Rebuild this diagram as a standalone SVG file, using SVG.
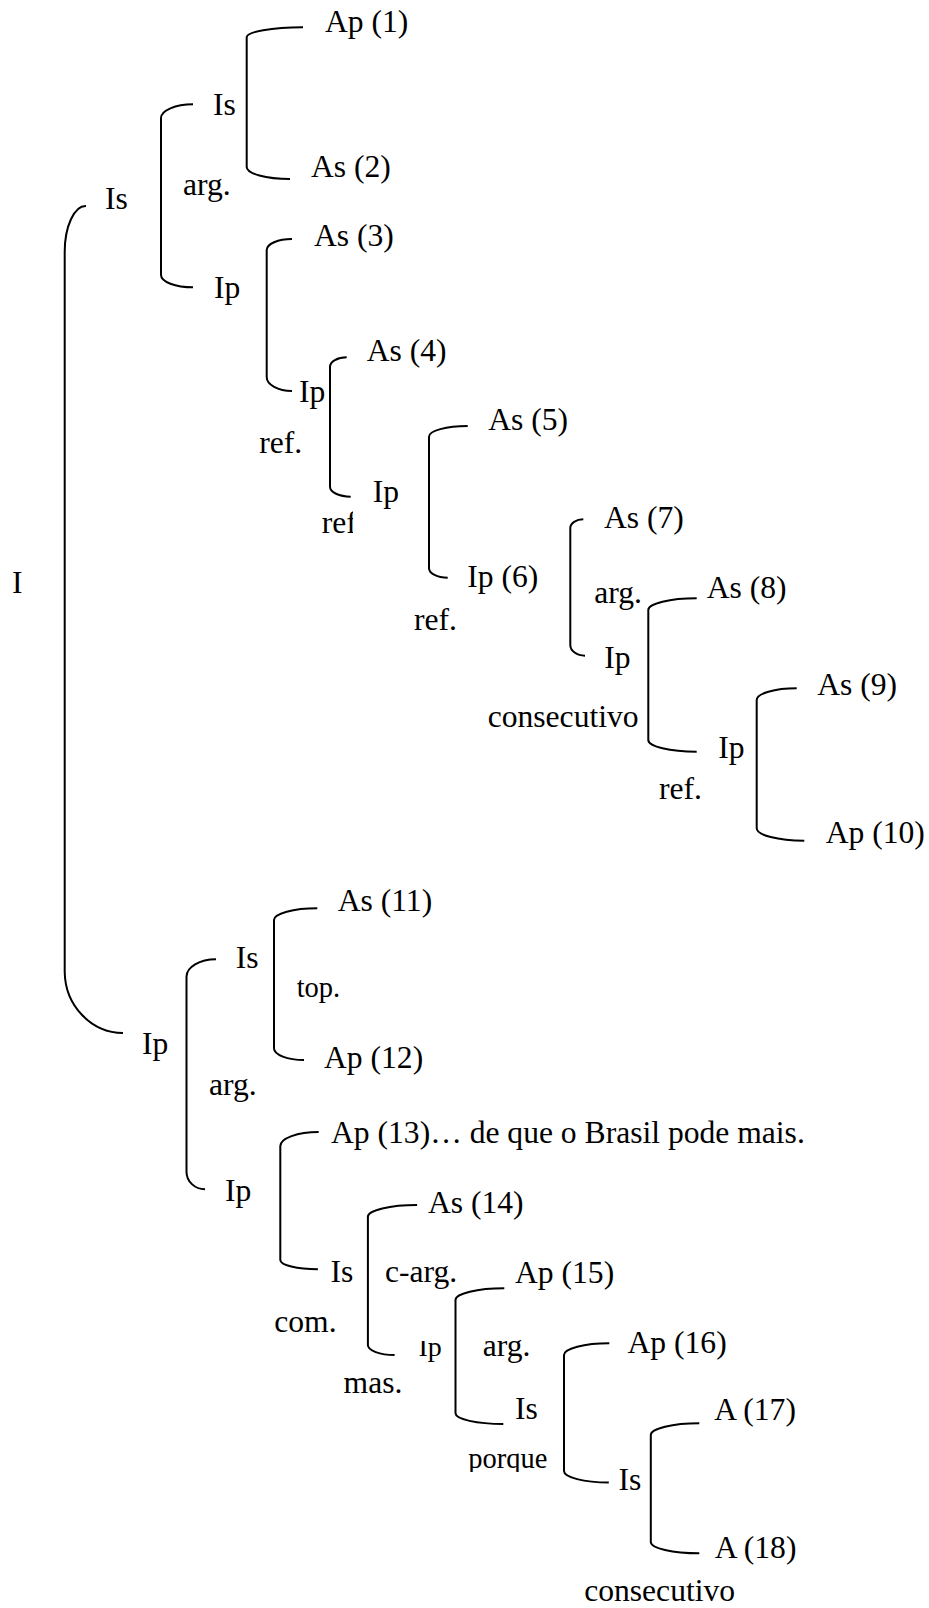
<svg xmlns="http://www.w3.org/2000/svg" width="929" height="1608" viewBox="0 0 929 1608">
<style>
text{font-family:"Liberation Serif","Times New Roman",serif;font-size:31.6px;fill:#000}
.sm{font-size:28.5px}
.xs{font-size:28px}
.br{fill:none;stroke:#000;stroke-width:2}
</style>
<defs>
<clipPath id="clipRef"><rect x="300" y="500" width="53" height="50"/></clipPath>
<clipPath id="clipIp"><rect x="410" y="1341" width="40" height="30"/></clipPath>
<clipPath id="clipPorque"><rect x="460" y="1440" width="100" height="32"/></clipPath>
</defs>
<rect width="929" height="1608" fill="#fff"/>
<g id="connectors">
<path class="br" d="M86,206 A21,46 0 0 0 64.7,252 V972 A58.7,62 0 0 0 123,1033"/>
<path class="br" d="M303,27.3 A56.3,10 0 0 0 246.7,37.3 V167 A43.3,12 0 0 0 290,179"/>
<path class="br" d="M193,104.3 A32,13.7 0 0 0 161,118 V275 A32,12.3 0 0 0 193,287.3"/>
<path class="br" d="M292,239 A25.3,11 0 0 0 266.7,250 V377 A25.3,14 0 0 0 292,391"/>
<path class="br" d="M346.7,357.3 A16.7,9.4 0 0 0 330,366.7 V486.7 A20.7,10 0 0 0 350.7,496.7"/>
<path class="br" d="M467.7,426 A38.7,10.7 0 0 0 429,436.7 V568.3 A18.7,9.4 0 0 0 447.7,577.7"/>
<path class="br" d="M583.3,519.3 A13,8.7 0 0 0 570.3,528 V645 A14.7,10.7 0 0 0 585,655.7"/>
<path class="br" d="M696.7,598.3 A48.4,11.7 0 0 0 648.3,610 V740 A48.4,11.7 0 0 0 696.7,751.7"/>
<path class="br" d="M796.7,688.3 A40,11.7 0 0 0 756.7,700 V828.3 A47.6,12.4 0 0 0 804.3,840.7"/>
<path class="br" d="M317.3,908.3 A43.3,11.7 0 0 0 274,920 V1048.3 A30,11.7 0 0 0 304,1060"/>
<path class="br" d="M216,959.3 A29.5,17.4 0 0 0 186.5,976.7 V1171.7 A18.5,17.6 0 0 0 205,1189.3"/>
<path class="br" d="M318.7,1132 A38.4,14 0 0 0 280.3,1146 V1260 A37.6,9.3 0 0 0 317.9,1269.3"/>
<path class="br" d="M417.1,1205 A49.2,11.7 0 0 0 367.9,1216.7 V1345 A26.7,10 0 0 0 394.6,1355"/>
<path class="br" d="M504.3,1288.3 A48.8,11.7 0 0 0 455.5,1300 V1413.3 A47.8,10.7 0 0 0 503.3,1424"/>
<path class="br" d="M609.3,1343.3 A45.3,11.7 0 0 0 564,1355 V1471 A44.8,11.5 0 0 0 608.8,1482.5"/>
<path class="br" d="M699.3,1423.3 A48.5,11.7 0 0 0 650.8,1435 V1542 A48.5,11.3 0 0 0 699.3,1553.3"/>
</g>
<g id="n-I"><text x="12" y="593.3">I</text></g>
<g id="n-Is-a"><text x="105" y="209">Is</text></g>
<g id="n-Is-b"><text x="213" y="115">Is</text></g>
<g id="n-Ap1"><text x="325" y="32">Ap (1)</text></g>
<g id="n-As2"><text x="311" y="177">As (2)</text></g>
<g id="l-arg1"><text x="183" y="195">arg.</text></g>
<g id="n-Ip-a"><text x="214" y="298">Ip</text></g>
<g id="n-As3"><text x="314" y="246">As (3)</text></g>
<g id="n-Ip-b"><text x="299" y="401.7">Ip</text></g>
<g id="l-ref1"><text x="259.3" y="453.3">ref.</text></g>
<g id="n-As4"><text x="366.7" y="360.7">As (4)</text></g>
<g id="n-Ip-c"><text x="372.7" y="501.7">Ip</text></g>
<g id="l-ref2"><text x="321.7" y="532.7" clip-path="url(#clipRef)">ref.</text></g>
<g id="n-As5"><text x="488.3" y="430">As (5)</text></g>
<g id="n-Ip6"><text x="467.3" y="586.7">Ip (6)</text></g>
<g id="l-ref3"><text x="414" y="630">ref.</text></g>
<g id="n-As7"><text x="604" y="528.3">As (7)</text></g>
<g id="l-arg2"><text x="594.3" y="603.3">arg.</text></g>
<g id="n-Ip-d"><text x="604.3" y="667.7">Ip</text></g>
<g id="l-cons1"><text x="487.7" y="726.7">consecutivo</text></g>
<g id="n-As8"><text x="706.7" y="598.3">As (8)</text></g>
<g id="n-Ip-e"><text x="718.3" y="758.3">Ip</text></g>
<g id="l-ref4"><text x="659" y="799.3">ref.</text></g>
<g id="n-As9"><text x="817.3" y="695">As (9)</text></g>
<g id="n-Ap10"><text x="825.7" y="843.3">Ap (10)</text></g>
<g id="n-Ip-f"><text x="142" y="1054">Ip</text></g>
<g id="n-Is-c"><text x="235.7" y="967.7">Is</text></g>
<g id="n-As11"><text x="337.7" y="911">As (11)</text></g>
<g id="l-top"><text class="sm" x="296.7" y="996.7">top.</text></g>
<g id="n-Ap12"><text x="324" y="1068.3">Ap (12)</text></g>
<g id="l-arg3"><text x="209" y="1095">arg.</text></g>
<g id="n-Ip-g"><text x="225" y="1200.7">Ip</text></g>
<g id="n-Ap13"><text x="331" y="1143.3">Ap (13)… de que o Brasil pode mais.</text></g>
<g id="n-Is-d"><text x="330.4" y="1281.7">Is</text></g>
<g id="l-com"><text x="274.3" y="1331.7">com.</text></g>
<g id="n-As14"><text x="428" y="1213.3">As (14)</text></g>
<g id="l-carg"><text x="385" y="1281.7">c-arg.</text></g>
<g id="n-Ip-h"><text class="xs" x="418.5" y="1356.3" clip-path="url(#clipIp)">Ip</text></g>
<g id="l-mas"><text x="343.6" y="1393.3">mas.</text></g>
<g id="n-Ap15"><text x="515" y="1283.3">Ap (15)</text></g>
<g id="l-arg4"><text x="482.8" y="1356.3">arg.</text></g>
<g id="n-Is-e"><text x="515" y="1419.3">Is</text></g>
<g id="l-porque"><text class="sm" x="468.3" y="1468.3" clip-path="url(#clipPorque)">porque</text></g>
<g id="n-Ap16"><text x="627.5" y="1352.5">Ap (16)</text></g>
<g id="n-Is-f"><text x="618.5" y="1489.5">Is</text></g>
<g id="n-A17"><text x="714.3" y="1420">A (17)</text></g>
<g id="n-A18"><text x="714.8" y="1558.3">A (18)</text></g>
<g id="l-cons2"><text x="584.2" y="1601">consecutivo</text></g>
</svg>
